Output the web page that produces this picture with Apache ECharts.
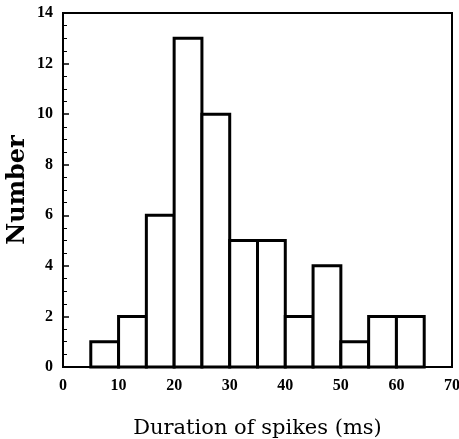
<!DOCTYPE html>
<html>
<head>
<meta charset="utf-8">
<script src="https://cdn.jsdelivr.net/npm/echarts@6/dist/echarts.min.js"></script>
<style>
  html, body { margin: 0; padding: 0; background: #fff; }
  #chart { width: 459px; height: 439px; }
</style>
</head>
<body>
<div id="chart"></div>
<script>
// histogram bins (ms) and counts
const binStarts = [5, 10, 15, 20, 25, 30, 35, 40, 45, 50, 55, 60]
const binWidth = 5
const counts = [1, 2, 6, 13, 10, 5, 5, 2, 4, 1, 2, 2]

const serif = 'DejaVu Serif'
const tickFont = 'Liberation Serif'

const chart = echarts.init(document.getElementById('chart'), null, { renderer: 'canvas' })

const option = {
  animation: false,
  backgroundColor: '#fff',
  grid: {
    left: 63,
    right: 7,
    top: 13,
    bottom: 72,
    containLabel: false,
    outerBoundsMode: 'none',
    show: true,
    borderColor: '#000',
    borderWidth: 2
  },
  xAxis: {
    type: 'value',
    min: 0,
    max: 70,
    interval: 10,
    name: 'Duration of spikes (ms)',
    nameLocation: 'middle',
    nameGap: 51,
    nameMoveOverlap: false,
    nameTextStyle: { fontFamily: serif, fontSize: 21, color: '#000' },
    axisLine: { lineStyle: { color: '#000', width: 2 } },
    axisTick: { show: false },
    splitLine: { show: false },
    axisLabel: { fontFamily: tickFont, fontSize: 16, fontWeight: 'bold', color: '#000', margin: 11 }
  },
  yAxis: {
    type: 'value',
    min: 0,
    max: 14,
    interval: 2,
    name: 'Number',
    nameLocation: 'middle',
    nameGap: 33,
    nameMoveOverlap: false,
    nameTextStyle: { fontFamily: serif, fontSize: 24, fontWeight: 'bold', color: '#000' },
    axisLine: { show: true, lineStyle: { color: '#000', width: 2 } },
    axisTick: { show: true, inside: true, length: 6, lineStyle: { color: '#000', width: 1.5 } },
    minorTick: { show: true, splitNumber: 4, length: 4, lineStyle: { color: '#000' } },
    splitLine: { show: false },
    axisLabel: { fontFamily: tickFont, fontSize: 16, fontWeight: 'bold', color: '#000', margin: 10 }
  },
  series: [
    {
      type: 'custom',
      renderItem: (params, api) => {
        const x0 = api.value(0)
        const x1 = api.value(1)
        const y = api.value(2)
        const p0 = api.coord([x0, y])
        const p1 = api.coord([x1, 0])
        return {
          type: 'rect',
          shape: { x: p0[0], y: p0[1], width: p1[0] - p0[0], height: p1[1] - p0[1] },
          style: { fill: '#fff', stroke: '#000', lineWidth: 3 }
        }
      },
      encode: { x: [0, 1], y: 2 },
      data: binStarts.map((s, i) => [s, s + binWidth, counts[i]])
    }
  ]
}

chart.setOption(option)
</script>
</body>
</html>
